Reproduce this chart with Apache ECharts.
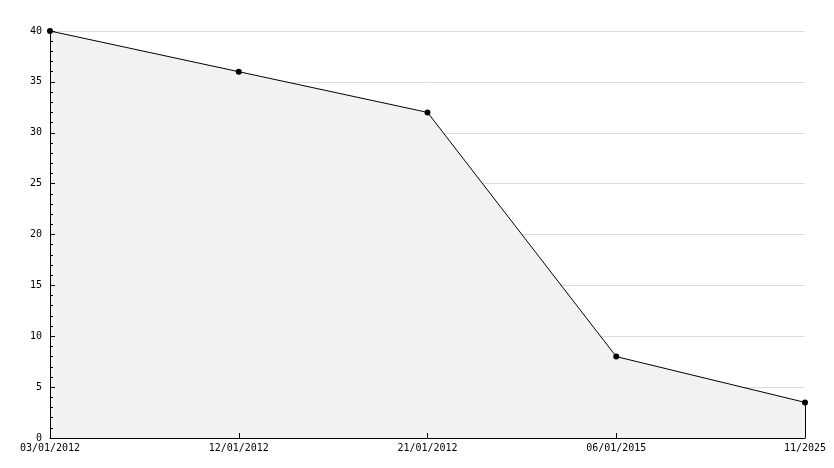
<!DOCTYPE html>
<html><head><meta charset="utf-8">
<script src="https://cdn.jsdelivr.net/npm/echarts@6/dist/echarts.min.js"></script>
<style>html,body{margin:0;padding:0;background:#fff}#c{width:834px;height:468px}</style>
</head><body><div id="c"></div>
<script>
const categories = ['03/01/2012', '12/01/2012', '21/01/2012', '06/01/2015', '11/2025'];
const values = [40, 36, 32, 8, 3.5];
const yMin = 0, yMax = 40, yStep = 5;

const font = '"DejaVu Sans Mono", monospace';
const chart = echarts.init(document.getElementById('c'), null, {renderer: 'canvas'});
const lastCat = categories[categories.length - 1];
const lastVal = values[values.length - 1];
chart.setOption({
  animation: false,
  backgroundColor: '#fff',
  grid: {left: 50, right: 29, top: 31, bottom: 30, containLabel: false},
  xAxis: {
    type: 'category', data: categories, boundaryGap: false, z: 10,
    axisLine: {lineStyle: {color: '#000', width: 1}},
    axisTick: {show: true, inside: true, length: 5, lineStyle: {color: '#000'}},
    axisLabel: {color: '#000', fontFamily: font, fontSize: 10, margin: 5, interval: 0, showMinLabel: true, showMaxLabel: true},
    splitLine: {show: false}
  },
  yAxis: [{
    type: 'value', min: yMin, max: yMax, interval: yStep, z: 0, position: 'left',
    axisLine: {show: false}, axisTick: {show: false}, axisLabel: {show: false},
    splitLine: {show: true, lineStyle: {color: '#dcdcdc', width: 1}}
  }, {
    type: 'value', min: yMin, max: yMax, interval: yStep, z: 10, position: 'left',
    axisLine: {show: true, lineStyle: {color: '#000', width: 1}},
    axisTick: {show: true, inside: true, length: 5, lineStyle: {color: '#000'}},
    minorTick: {show: true, splitNumber: 5, length: 3, lineStyle: {color: '#000'}},
    axisLabel: {color: '#000', fontFamily: font, fontSize: 10, margin: 8},
    splitLine: {show: false}
  }],
  series: [{
    type: 'line', data: values, z: 2, yAxisIndex: 0,
    symbol: 'circle', symbolSize: 6,
    itemStyle: {color: '#000'},
    lineStyle: {color: '#000', width: 1},
    areaStyle: {color: '#f2f2f2', opacity: 1},
    markLine: {
      silent: true, symbol: 'none', label: {show: false},
      lineStyle: {color: '#000', width: 1, type: 'solid'},
      data: [[{coord: [lastCat, yMin]}, {coord: [lastCat, lastVal]}]]
    }
  }]
});
</script></body></html>
